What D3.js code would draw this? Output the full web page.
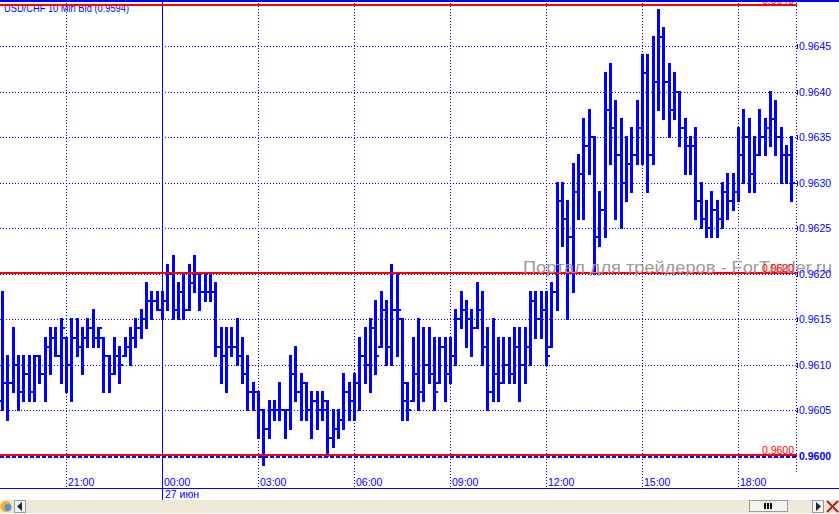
<!DOCTYPE html>
<html><head><meta charset="utf-8">
<script src="https://cdn.jsdelivr.net/npm/d3@7"></script>
<style>body{margin:0;background:#fff;overflow:hidden}svg{display:block}</style>
</head><body>
<script>
const title = "USD/CHF 10 Min Bid (0.9594)";
const startTime = new Date(2012, 5, 26, 19, 0);
const barMinutes = 10;
const highs = [
.9618,.9611,.9614,.9611,.9611,.9611,.9611,.9611,.9613,.9614,
.9614,.9615,.9613,.9615,.9615,.9614,.9615,.9616,.9614,.9613,
.9611,.9613,.9612,.9613,.9614,.9615,.9616,.9619,.9618,.9618,
.9618,.9621,.9622,.9619,.9620,.9621,.9622,.9620,.9620,.9620,
.9619,.9614,.9614,.9614,.9615,.9613,.9611,.9608,.9607,.9605,
.9606,.9606,.9608,.9605,.9611,.9612,.9609,.9608,.9607,.9607,
.9607,.9606,.9605,.9605,.9609,.9608,.9609,.9613,.9614,.9615,
.9617,.9618,.9617,.9621,.9620,.9615,.9608,.9613,.9615,.9614,
.9614,.9613,.9613,.9613,.9613,.9616,.9618,.9617,.9616,.9619,
.9618,.9614,.9615,.9613,.9613,.9613,.9614,.9614,.9614,.9618,
.9618,.9618,.9618,.9619,.9630,.9630,.9628,.9632,.9633,.9637,
.9638,.9635,.9629,.9642,.9643,.9639,.9637,.9635,.9636,.9639,
.9644,.9644,.9646,.9649,.9647,.9643,.9642,.9640,.9637,.9635,
.9636,.9630,.9628,.9629,.9628,.9630,.9631,.9631,.9636,.9638,
.9637,.9635,.9638,.9637,.9640,.9639,.9636,.9634,.9635];
const lows = [
.9605,.9604,.9607,.9605,.9606,.9606,.9606,.9608,.9606,.9609,
.9611,.9608,.9607,.9606,.9611,.9609,.9612,.9612,.9612,.9607,
.9607,.9609,.9608,.9611,.9610,.9612,.9613,.9614,.9615,.9616,
.9615,.9616,.9615,.9615,.9615,.9616,.9618,.9616,.9617,.9617,
.9611,.9608,.9607,.9611,.9610,.9608,.9605,.9605,.9602,.9599,
.9602,.9604,.9604,.9602,.9603,.9606,.9604,.9604,.9602,.9603,
.9604,.9600,.9601,.9602,.9603,.9604,.9604,.9605,.9608,.9607,
.9609,.9612,.9610,.9610,.9611,.9604,.9604,.9606,.9605,.9606,
.9608,.9605,.9608,.9606,.9608,.9610,.9614,.9612,.9611,.9614,
.9610,.9605,.9606,.9606,.9608,.9608,.9608,.9606,.9608,.9610,
.9613,.9613,.9610,.9612,.9616,.9623,.9615,.9618,.9626,.9626,
.9631,.9620,.9623,.9624,.9632,.9626,.9625,.9628,.9629,.9632,
.9632,.9629,.9632,.9638,.9637,.9635,.9637,.9634,.9631,.9631,
.9626,.9625,.9624,.9624,.9624,.9625,.9626,.9627,.9628,.9630,
.9629,.9629,.9633,.9633,.9634,.9633,.9630,.9630,.9628];
const opens = [
.9606,.9608,.9608,.9610,.9607,.9609,.9607,.9611,.9609,.9612,
.9613,.9611,.9613,.9610,.9613,.9612,.9613,.9614,.9613,.9613,
.9611,.9609,.9611,.9611,.9612,.9613,.9614,.9615,.9617,.9617,
.9616,.9617,.9620,.9616,.9618,.9616,.9619,.9620,.9618,.9618,
.9618,.9612,.9611,.9612,.9612,.9611,.9609,.9607,.9607,.9605,
.9603,.9605,.9605,.9605,.9605,.9609,.9607,.9608,.9605,.9606,
.9605,.9605,.9602,.9603,.9604,.9607,.9606,.9608,.9611,.9610,
.9614,.9612,.9616,.9612,.9616,.9615,.9606,.9606,.9609,.9607,
.9610,.9609,.9608,.9612,.9609,.9611,.9615,.9616,.9615,.9614,
.9616,.9612,.9607,.9609,.9608,.9610,.9609,.9612,.9610,.9612,
.9617,.9615,.9616,.9612,.9618,.9628,.9626,.9624,.9629,.9631,
.9634,.9635,.9624,.9627,.9638,.9636,.9633,.9630,.9632,.9633,
.9636,.9642,.9633,.9641,.9646,.9641,.9638,.9640,.9636,.9634,
.9634,.9628,.9626,.9625,.9627,.9626,.9629,.9628,.9629,.9633,
.9635,.9631,.9633,.9635,.9636,.9637,.9635,.9633,.9633];
const closes = [
.9608,.9608,.9610,.9607,.9609,.9607,.9611,.9609,.9612,.9613,
.9611,.9614,.9610,.9613,.9612,.9613,.9614,.9613,.9614,.9611,
.9609,.9611,.9610,.9612,.9613,.9614,.9615,.9617,.9617,.9616,
.9617,.9620,.9616,.9618,.9616,.9619,.9620,.9618,.9618,.9618,
.9612,.9611,.9612,.9612,.9611,.9609,.9607,.9607,.9605,.9603,
.9605,.9605,.9605,.9605,.9609,.9607,.9608,.9605,.9606,.9605,
.9606,.9602,.9603,.9604,.9607,.9606,.9608,.9611,.9610,.9614,
.9611,.9616,.9612,.9616,.9616,.9608,.9605,.9609,.9607,.9610,
.9609,.9607,.9612,.9609,.9611,.9615,.9616,.9615,.9614,.9616,
.9612,.9607,.9609,.9608,.9610,.9609,.9612,.9610,.9612,.9617,
.9615,.9616,.9611,.9618,.9628,.9626,.9624,.9629,.9631,.9634,
.9635,.9624,.9627,.9638,.9636,.9633,.9630,.9632,.9633,.9636,
.9642,.9633,.9641,.9646,.9641,.9638,.9640,.9636,.9634,.9634,
.9628,.9626,.9625,.9627,.9626,.9629,.9628,.9629,.9633,.9635,
.9631,.9633,.9635,.9636,.9637,.9635,.9633,.9633,.9630];
const priceTicks = [0.9605, 0.9610, 0.9615, 0.9620, 0.9625, 0.9630, 0.9635, 0.9640, 0.9645];
const priceTickLabels = ["0.9605","0.9610","0.9615","0.9620","0.9625","0.9630","0.9635","0.9640","0.9645"];
const levelValues = [0.96494, 0.9620, 0.9600];
const levelLabels = ["0.9649", "0.9620", "0.9600"];
const bidValue = 0.9600;
const bidLabel = "0.9600";
const dayLabel = "27 июн";
const watermark = "Портал для трейдеров - ForTrader.ru";

const W = 839, H = 514;
const BLUE = "#0000ff", RED = "#ff0000";
const FONT = "'Liberation Sans', Arial, sans-serif";
const plotRight = 797;

const times = highs.map((_, i) => d3.timeMinute.offset(startTime, i * barMinutes));
const endTime = d3.timeMinute.offset(startTime, highs.length * barMinutes);
const x = d3.scaleTime().domain([startTime, endTime]).range([2.5, 2.5 + highs.length * 16 / 3]);
const y = d3.scaleLinear().domain([0.9600, 0.9645]).range([456, 46]);

const svg = d3.select("body").append("svg").attr("width", W).attr("height", H)
  .attr("shape-rendering", "crispEdges");
svg.append("rect").attr("width", W).attr("height", H).attr("fill", "#fff");

// title
svg.append("text").attr("x", 4).attr("y", 11.5).attr("font-family", FONT).attr("font-size", 10.5)
  .attr("fill", BLUE).attr("textLength", 125).attr("lengthAdjust", "spacingAndGlyphs").text(title);

// horizontal grid
const grid = svg.append("g");
grid.selectAll("line.h").data(priceTicks).join("line")
  .attr("x1", 0).attr("x2", plotRight)
  .attr("y1", d => Math.round(y(d)) + 0.5).attr("y2", d => Math.round(y(d)) + 0.5)
  .attr("stroke", BLUE).attr("stroke-dasharray", "1,2");
// vertical grid
const hourTicks = x.ticks(d3.timeHour.every(3));
grid.selectAll("line.v").data(hourTicks).join("line")
  .attr("x1", d => Math.floor(x(d)) + 0.5).attr("x2", d => Math.floor(x(d)) + 0.5)
  .attr("y1", 0).attr("y2", d => d.getHours() === 0 ? 500 : 488)
  .attr("stroke", BLUE)
  .attr("stroke-dasharray", d => d.getHours() === 0 ? null : "1,2");
grid.append("line").attr("x1", plotRight - 0.5).attr("x2", plotRight - 0.5).attr("y1", 0).attr("y2", 474)
  .attr("stroke", BLUE).attr("stroke-dasharray", "1,2");

// bars
const bars = svg.append("g").attr("fill", BLUE);
const idx = d3.range(highs.length);
const bx = i => Math.floor(x(times[i])) - 1;
bars.selectAll("rect.b").data(idx).join("rect")
  .attr("x", bx).attr("width", 3)
  .attr("y", i => Math.round(y(highs[i])) - 1)
  .attr("height", i => Math.round(y(lows[i])) - Math.round(y(highs[i])) + 2);
bars.selectAll("rect.o").data(idx).join("rect")
  .attr("x", i => bx(i) - 2).attr("width", 2)
  .attr("y", i => Math.round(y(opens[i])) - 1).attr("height", 2);
bars.selectAll("rect.c").data(idx).join("rect")
  .attr("x", i => bx(i) + 3).attr("width", 2)
  .attr("y", i => Math.round(y(closes[i])) - 1).attr("height", 2);

// red levels
const lvTop = d => Math.round(y(d)) - 2;
svg.append("g").selectAll("rect").data(levelValues).join("rect")
  .attr("x", 0).attr("width", plotRight)
  .attr("y", lvTop).attr("height", 2).attr("fill", RED);
// bid dashed line
svg.append("line").attr("x1", 0).attr("x2", plotRight)
  .attr("y1", Math.round(y(bidValue)) + 1).attr("y2", Math.round(y(bidValue)) + 1)
  .attr("stroke", BLUE).attr("stroke-width", 2).attr("stroke-dasharray", "4,2");

// watermark
svg.append("text").attr("x", 523).attr("y", 273).attr("font-family", FONT).attr("font-size", 17)
  .attr("fill", "#9a9a9a").attr("textLength", 309)
  .attr("lengthAdjust", "spacingAndGlyphs").text(watermark);

// red level labels
svg.append("g").selectAll("text").data(levelValues).join("text")
  .attr("x", plotRight - 3).attr("y", d => lvTop(d))
  .attr("text-anchor", "end").attr("font-family", FONT).attr("font-size", 10.5)
  .attr("fill", RED).text((d, i) => levelLabels[i]);

// right axis labels
const ax = svg.append("g");
ax.selectAll("text").data(priceTicks).join("text")
  .attr("x", 799).attr("y", d => Math.round(y(d)) + 4)
  .attr("font-family", FONT).attr("font-size", 10.5).attr("fill", BLUE)
  .text((d, i) => priceTickLabels[i]);
ax.selectAll("rect").data(priceTicks).join("rect")
  .attr("x", 797).attr("width", 1).attr("y", d => Math.round(y(d)) - 2).attr("height", 5).attr("fill", BLUE);
ax.append("text").attr("x", 799).attr("y", Math.round(y(bidValue)) + 4)
  .attr("font-family", FONT).attr("font-size", 10.5).attr("font-weight", "bold").attr("fill", BLUE).text(bidLabel);

// time axis
svg.append("line").attr("x1", 0).attr("x2", W).attr("y1", 488.5).attr("y2", 488.5).attr("stroke", BLUE);
svg.append("g").selectAll("text").data(hourTicks).join("text")
  .attr("x", d => Math.floor(x(d)) + 2).attr("y", 486)
  .attr("font-family", FONT).attr("font-size", 10.5).attr("fill", BLUE)
  .text(d => d3.timeFormat("%H:%M")(d));
const dayTick = hourTicks.find(d => d.getHours() === 0);
svg.append("text").attr("x", Math.floor(x(dayTick)) + 3).attr("y", 498)
  .attr("font-family", FONT).attr("font-size", 10.5).attr("fill", BLUE).text(dayLabel);

// top border
svg.append("rect").attr("x", 0).attr("y", 0).attr("width", W).attr("height", 2).attr("fill", BLUE);

// bottom scroll strip
const sb = svg.append("g");
sb.append("rect").attr("x", 0).attr("y", 500).attr("width", W).attr("height", 13).attr("fill", "#ece9d8");
sb.append("rect").attr("x", 0).attr("y", 513).attr("width", W).attr("height", 1).attr("fill", "#f8f7f2");
sb.append("circle").attr("cx", 6).attr("cy", 506.5).attr("r", 5.5).attr("fill", "#f0b030").attr("shape-rendering", "auto");
sb.append("circle").attr("cx", 8).attr("cy", 507.5).attr("r", 3.5).attr("fill", "#5a8fd8").attr("shape-rendering", "auto");
sb.append("rect").attr("x", 14.5).attr("y", 500.5).attr("width", 11).attr("height", 12).attr("fill", "#f4f3ee").attr("stroke", "#9a9a9a");
sb.append("path").attr("d", "M17,506.5 L22,502 L22,511 Z").attr("fill", "#1a2a3a").attr("shape-rendering", "auto");
sb.append("rect").attr("x", 749.5).attr("y", 500.5).attr("width", 38).attr("height", 11).attr("fill", "#f4f3ee").attr("stroke", "#9a9a9a");
[764, 767, 770].forEach(v => sb.append("rect").attr("x", v).attr("y", 503).attr("width", 2).attr("height", 6).attr("fill", "#000"));
sb.append("rect").attr("x", 812.5).attr("y", 500.5).attr("width", 11).attr("height", 12).attr("fill", "#f4f3ee").attr("stroke", "#9a9a9a");
sb.append("path").attr("d", "M816,502 L821,506.5 L816,511 Z").attr("fill", "#1a2a3a").attr("shape-rendering", "auto");
sb.append("path").attr("d", "M827,501 L838,512 M838,501 L827,512").attr("stroke", "#d01010").attr("stroke-width", 2).attr("shape-rendering", "auto");
sb.append("path").attr("d", "M829,503 L835,509").attr("stroke", "#2a6a2a").attr("stroke-width", 1).attr("shape-rendering", "auto");
</script>
</body></html>
